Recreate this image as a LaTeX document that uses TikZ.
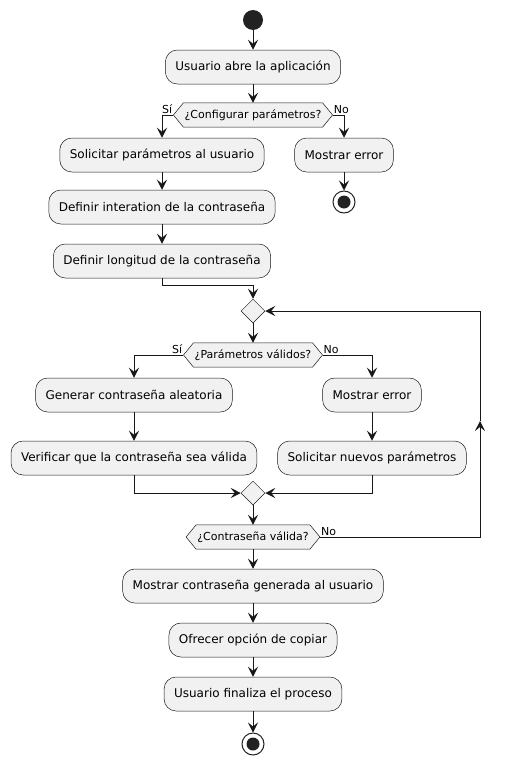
\documentclass[tikz,border=0pt]{standalone}
\usepackage{fontspec}
\setmainfont{DejaVu Sans}
\usetikzlibrary{arrows.meta,shapes.geometric,calc}
\definecolor{ink}{HTML}{181818}
\definecolor{dot}{HTML}{222222}
\definecolor{boxfill}{HTML}{F1F1F1}
\pgfdeclarelayer{bg}
\pgfsetlayers{bg,main}

\tikzset{
  act/.style={draw=ink, line width=0.5pt, fill=boxfill, rounded corners=12pt,
    minimum height=34pt, inner xsep=10pt, inner ysep=0pt,
    font=\fontsize{12}{14}\selectfont, text=black},
  hexnode/.style={minimum height=24pt, inner xsep=11pt, inner ysep=0pt,
    font=\fontsize{11}{13}\selectfont, text=black},
  hexline/.style={draw=ink, line width=0.5pt, fill=boxfill},
  merge/.style={diamond, draw=ink, line width=0.5pt, fill=boxfill,
    minimum width=24pt, minimum height=24pt, inner sep=0pt},
  flow/.style={draw=ink, line width=1pt},
  arr/.style={flow, -{Stealth[length=10pt,width=10pt,inset=4pt]}},
  guard/.style={font=\fontsize{11}{13}\selectfont, inner sep=1pt, text=black},
  startdot/.style={circle, fill=dot, minimum size=20pt, inner sep=0pt},
  endring/.style={circle, draw=dot, line width=1pt, fill=white, minimum size=22pt, inner sep=0pt},
}

% hexagonal decision frame drawn behind a decision node
\newcommand\hexframe[1]{%
  \path[hexline] (#1.west) -- ([xshift=10pt]#1.north west) -- ([xshift=-10pt]#1.north east)
    -- (#1.east) -- ([xshift=-10pt]#1.south east) -- ([xshift=10pt]#1.south west) -- cycle;}

\begin{document}
\begin{tikzpicture}[x=1pt, y=-1pt]
\useasboundingbox (0,0) rectangle (505,763);

% start
\node[startdot] (start) at (253,20) {};
\node[act] (a1) at (253,67) {Usuario abre la aplicación};
\node[hexnode] (h1) at (253,115) {¿Configurar parámetros?};

% configuration branch
\node[act] (s1) at (162,155) {Solicitar parámetros al usuario};
\node[act] (d1) at (162,207) {Definir interation de la contraseña};
\node[act] (d2) at (162,261) {Definir longitud de la contraseña};

% error branch
\node[act] (e1) at (344,155) {Mostrar error};
\node[endring] (end1) at (344,202) {};
\fill[dot] (end1) circle (6.5pt);

% repeat loop
\node[merge] (m1) at (253,311) {};
\node[hexnode] (h2) at (253,355) {¿Parámetros válidos?};
\node[act] (g1) at (134,395) {Generar contraseña aleatoria};
\node[act] (v1) at (134,458) {Verificar que la contraseña sea válida};
\node[act] (e2) at (372,395) {Mostrar error};
\node[act] (n1) at (372,458) {Solicitar nuevos parámetros};
\node[merge] (m2) at (253,493) {};
\node[hexnode] (h3) at (253,537) {¿Contraseña válida?};

% final steps
\node[act] (r1) at (253,586) {Mostrar contraseña generada al usuario};
\node[act] (r2) at (253,640) {Ofrecer opción de copiar};
\node[act] (r3) at (253,694) {Usuario finaliza el proceso};
\node[endring] (end2) at (253,744) {};
\fill[dot] (end2) circle (6.5pt);

\begin{pgfonlayer}{bg}
  \hexframe{h1}
  \hexframe{h2}
  \hexframe{h3}
\end{pgfonlayer}

% guard labels
\node[guard, anchor=south east] (l1) at (h1.west) {Sí};
\node[guard, anchor=south west] (l2) at (h1.east) {No};
\node[guard, anchor=south east] (l3) at (h2.west) {Sí};
\node[guard, anchor=south west] (l4) at (h2.east) {No};
\node[guard, anchor=south west] (l5) at (h3.east) {No};

% helper points
\coordinate (j1) at (162,285);
\coordinate (lb) at (480,537);
\coordinate (lmid) at (480,421);
\coordinate (lt) at (480,311);

% connectors
\draw[arr] (start) -- (a1);
\draw[arr] (a1) -- (h1);
\draw[arr] (h1.west) -| (s1);
\draw[arr] (h1.east) -| (e1);
\draw[arr] (e1) -- (end1);
\draw[arr] (s1) -- (d1);
\draw[arr] (d1) -- (d2);
\draw[arr] (d2.south) -- (j1) -| (m1.north);
\draw[arr] (m1) -- (h2);
\draw[arr] (h2.west) -| (g1);
\draw[arr] (h2.east) -| (e2);
\draw[arr] (g1) -- (v1);
\draw[arr] (e2) -- (n1);
\draw[arr] (v1) |- (m2);
\draw[arr] (n1) |- (m2);
\draw[arr] (m2) -- (h3);
\draw[arr] (h3.east) -- (lb) -- (lmid);
\draw[arr] (lmid) -- (lt) -- (m1.east);
\draw[arr] (h3) -- (r1);
\draw[arr] (r1) -- (r2);
\draw[arr] (r2) -- (r3);
\draw[arr] (r3) -- (end2);
\end{tikzpicture}
\end{document}
